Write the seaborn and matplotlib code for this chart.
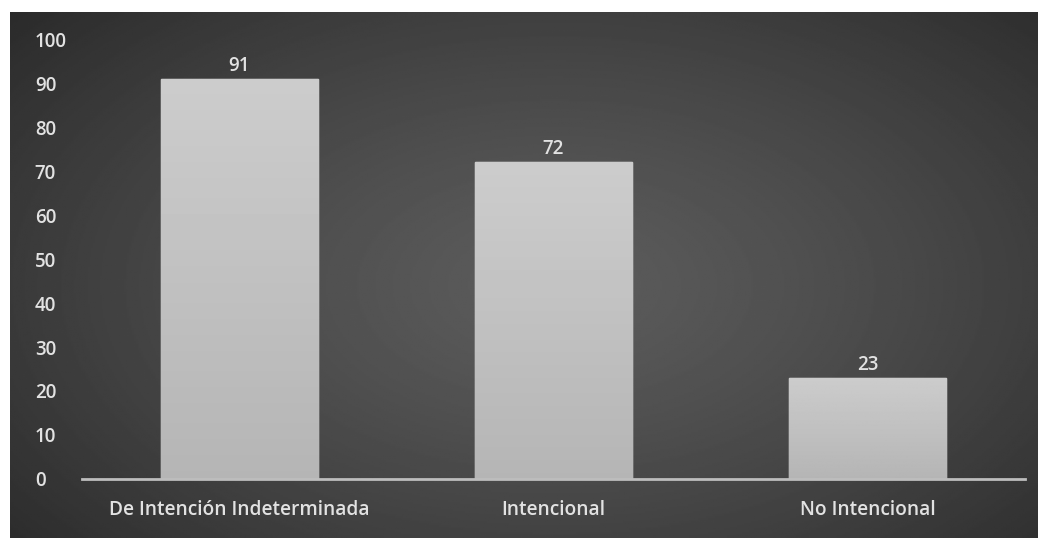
import numpy as np
import pandas as pd
import matplotlib
matplotlib.use("Agg")
import matplotlib.pyplot as plt
import seaborn as sns

# Datos del gráfico
categorias = ["De Intención Indeterminada", "Intencional", "No Intencional"]
valores = [91, 72, 23]
ticks_y = [0, 10, 20, 30, 40, 50, 60, 70, 80, 90, 100]

df = pd.DataFrame({"categoria": categorias, "valor": valores})

sns.set_style("dark")
plt.rcParams["font.family"] = ["Open Sans", "DejaVu Sans"]

fig = plt.figure(figsize=(10.38, 5.38), dpi=100, facecolor="white")

# Fondo con degradado radial
bg = fig.add_axes([10 / 1038, 0, 1 - 10 / 1038, 1 - 12 / 538])
yy, xx = np.mgrid[0:1:300j, 0:1:600j]
r = np.sqrt(((xx - 0.53) / 0.75) ** 2 + ((yy - 0.52) / 0.85) ** 2)
r = np.clip(r, 0, 1)
grad = 0.36 - 0.21 * r ** 1.3
bg.imshow(grad, cmap="gray", vmin=0, vmax=1, aspect="auto", extent=[0, 1, 0, 1])
bg.set_axis_off()

ax = fig.add_axes([82 / 1038, 1 - 479 / 538, (1025 - 82) / 1038, (479 - 39) / 538])
ax.set_facecolor("none")
sns.barplot(data=df, x="categoria", y="valor", color="#c4c4c4", width=0.5,
            saturation=1, ax=ax, zorder=2)

# Degradado en las barras
for p in ax.patches:
    x0, y0 = p.get_x(), p.get_y()
    w, h = p.get_width(), p.get_height()
    g = np.linspace(0.80, 0.71, 100).reshape(-1, 1)
    im = ax.imshow(g, cmap="gray", vmin=0, vmax=1, aspect="auto",
                   extent=[x0, x0 + w, y0, y0 + h], zorder=2.5)
    im.set_clip_path(p)

ax.bar_label(ax.containers[0], labels=[str(v) for v in valores], padding=2,
             color="#e2e2e2", fontsize=13.5, fontweight="semibold")

ax.set_xlim(-0.5, 2.5)
ax.set_ylim(0, 100)
ax.set_yticks(ticks_y)
ax.set_xlabel("")
ax.set_ylabel("")
ax.grid(False)
for s in ["top", "right", "left"]:
    ax.spines[s].set_visible(False)
ax.spines["bottom"].set_color("#bdbdbd")
ax.spines["bottom"].set_linewidth(2)
ax.spines["bottom"].set_zorder(3)

ax.tick_params(axis="y", length=0, pad=34, labelcolor="#e2e2e2", labelsize=13.5)
ax.tick_params(axis="x", length=0, pad=15, labelcolor="#e2e2e2", labelsize=13.8)
for t in ax.get_yticklabels():
    t.set_horizontalalignment("left")
    t.set_fontweight("semibold")
for t in ax.get_xticklabels():
    t.set_fontweight("semibold")

fig.savefig("out.png", dpi=100, facecolor="white")
